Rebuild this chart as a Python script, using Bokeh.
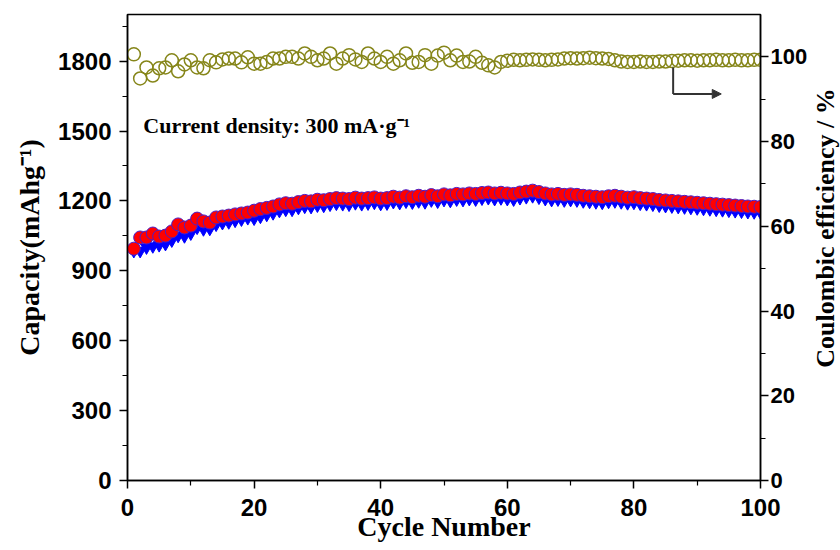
import math
from bokeh.plotting import figure
from bokeh.layouts import row
from bokeh.models import Range1d, LinearAxis, FixedTicker, Label, Arrow, NormalHead
from bokeh.core.properties import value
from bokeh.embed import file_html
from bokeh.resources import INLINE

# ---------------- data ----------------
cycles = list(range(1, 101))

charge_capacity = [
    995, 1043, 1043, 1060, 1047, 1051, 1069, 1099, 1086, 1094,
    1124, 1112, 1107, 1129, 1133, 1137, 1142, 1146, 1150, 1158,
    1165, 1170, 1176, 1185, 1190, 1188, 1195, 1200, 1198, 1205,
    1203, 1208, 1212, 1210, 1208, 1214, 1210, 1212, 1215, 1210,
    1212, 1218, 1214, 1220, 1216, 1222, 1218, 1225, 1220, 1228,
    1224, 1230, 1228, 1232, 1230, 1234, 1236, 1232, 1235, 1232,
    1230, 1236, 1240, 1244, 1238, 1232, 1228, 1230, 1226, 1228,
    1226, 1222, 1220, 1218, 1216, 1220, 1222, 1218, 1214, 1216,
    1212, 1210, 1208, 1204, 1202, 1200, 1198, 1196, 1194, 1192,
    1190, 1188, 1186, 1184, 1182, 1180, 1178, 1176, 1175, 1174,
]

discharge_capacity = [
    985, 985, 1000, 1005, 1010, 1015, 1030, 1050, 1048, 1060,
    1085, 1078, 1080, 1098, 1105, 1108, 1115, 1120, 1126, 1124,
    1132, 1140, 1147, 1157, 1162, 1162, 1170, 1175, 1174, 1180,
    1179, 1184, 1188, 1186, 1184, 1190, 1186, 1189, 1192, 1187,
    1189, 1195, 1191, 1197, 1193, 1198, 1194, 1202, 1197, 1204,
    1200, 1206, 1204, 1208, 1206, 1210, 1212, 1208, 1211, 1208,
    1206, 1212, 1216, 1220, 1214, 1208, 1204, 1206, 1202, 1204,
    1202, 1198, 1196, 1194, 1192, 1196, 1198, 1194, 1190, 1192,
    1188, 1186, 1184, 1180, 1178, 1176, 1174, 1172, 1170, 1168,
    1166, 1164, 1162, 1160, 1158, 1156, 1154, 1152, 1151, 1150,
]

coulombic_efficiency = [
    100.6, 94.9, 97.5, 95.6, 97.3, 97.5, 99.2, 96.6, 98.2, 99.2,
    97.5, 97.3, 99.2, 98.7, 99.4, 99.6, 99.6, 98.7, 99.9, 98.4,
    98.4, 98.8, 99.6, 99.6, 100.0, 100.0, 99.6, 100.8, 100.0, 99.2,
    99.6, 100.8, 98.4, 99.6, 100.4, 99.4, 98.8, 100.8, 99.6, 98.8,
    100.0, 98.4, 99.2, 100.8, 98.6, 98.8, 100.4, 98.4, 100.3, 101.0,
    99.2, 100.3, 98.8, 98.9, 100.0, 98.6, 98.0, 97.5, 98.8, 99.1,
    99.3, 99.2, 99.3, 99.4, 99.3, 99.2, 99.3, 99.4, 99.6, 99.7,
    99.6, 99.7, 99.8, 99.7, 99.6, 99.5, 99.2, 98.9, 98.8, 98.8,
    98.9, 98.8, 98.8, 98.9, 98.9, 99.0, 99.1, 99.2, 99.2, 99.1,
    99.2, 99.2, 99.3, 99.2, 99.2, 99.3, 99.2, 99.2, 99.3, 99.3,
]

x_ticks = [0, 20, 40, 60, 80, 100]
x_minor = [10, 30, 50, 70, 90]
cap_ticks = [0, 300, 600, 900, 1200, 1500, 1800]
cap_minor = [150, 450, 750, 1050, 1350, 1650, 1950]
ce_ticks = [0, 20, 40, 60, 80, 100]
ce_minor = [10, 30, 50, 70, 90]

x_title = "Cycle Number"
left_title = "Capacity(mAhg\u207b\u00b9)"
right_title = "Coulombic efficiency / %"
note_text = "Current density: 300 mA\u00b7g\u207b\u00b9"

SERIF = "Liberation Serif"
SANS = "Liberation Sans"

# ---------------- main figure ----------------
p = figure(width=810, height=550,
           x_range=Range1d(0, 100), y_range=Range1d(0, 2000),
           output_backend="svg", toolbar_location=None,
           min_border_left=127, min_border_right=47,
           min_border_top=14, min_border_bottom=70)
p.extra_y_ranges = {"ce": Range1d(0, 110)}
p.grid.visible = False
p.background_fill_color = "white"
p.border_fill_color = "white"
p.outline_line_color = "black"
p.outline_line_width = 1.5

p.xaxis.ticker = FixedTicker(ticks=x_ticks, minor_ticks=x_minor)
p.yaxis.ticker = FixedTicker(ticks=cap_ticks, minor_ticks=cap_minor)

ax_r = LinearAxis(y_range_name="ce",
                  ticker=FixedTicker(ticks=ce_ticks, minor_ticks=ce_minor))
p.add_layout(ax_r, "right")

p.xaxis[0].axis_label = x_title
p.yaxis[0].axis_label = left_title

for ax in [p.xaxis[0], p.yaxis[0], ax_r]:
    ax.axis_line_width = 1.5
    ax.axis_line_color = "black"
    ax.major_tick_in = 0
    ax.major_tick_out = 8
    ax.minor_tick_in = 0
    ax.minor_tick_out = 5
    ax.major_tick_line_width = 1.5
    ax.minor_tick_line_width = 1.2
    ax.major_tick_line_color = "black"
    ax.minor_tick_line_color = "black"
    ax.major_label_text_font = SANS
    ax.major_label_text_font_style = "bold"
    ax.major_label_text_font_size = "24px"
    ax.major_label_text_color = "black"
    ax.axis_label_text_font = SERIF
    ax.axis_label_text_font_style = "bold"
    ax.axis_label_text_font_size = "28px"
    ax.axis_label_text_color = "black"

ax_r.major_label_text_font_size = "22px"
p.xaxis[0].major_label_standoff = 10
p.xaxis[0].axis_label_standoff = -8
p.yaxis[0].major_label_standoff = 8
p.yaxis[0].axis_label_standoff = 10
ax_r.major_label_standoff = 2

# ---------------- data marks ----------------
p.scatter(cycles, discharge_capacity, marker="inverted_triangle", size=12,
          fill_color="#0000ff", line_color="#0000ff", line_width=1)
p.scatter(cycles, charge_capacity, marker="circle", size=13,
          fill_color="#ff0000", line_color="#4a1ec8", line_width=1)
p.scatter(cycles, coulombic_efficiency, y_range_name="ce", marker="circle",
          size=13, fill_color=None, line_color="#86861a", line_width=1.5)

# ---------------- annotations ----------------
arrow_x0, arrow_x1 = 86.2, 93.8
arrow_ytop, arrow_y = 1772, 1659
p.line([arrow_x0, arrow_x0], [arrow_ytop, arrow_y], line_color="#333333", line_width=2)
p.add_layout(Arrow(end=NormalHead(size=9, fill_color="#333333", line_color="#333333"),
                   x_start=arrow_x0, y_start=arrow_y, x_end=arrow_x1, y_end=arrow_y,
                   line_color="#333333", line_width=2))

p.add_layout(Label(x=2.5, y=1524, text=note_text, text_font=SERIF,
                   text_font_style="bold", text_font_size="22px",
                   text_baseline="middle", text_align="left", text_color="black"))

# ---------------- right-hand title strip ----------------
side = figure(width=30, height=550, x_range=Range1d(0, 30), y_range=Range1d(0, 550),
              x_axis_type=None, y_axis_type=None,
              output_backend="svg", toolbar_location=None,
              min_border_left=0, min_border_right=0, min_border_top=0, min_border_bottom=0)
side.grid.visible = False
side.outline_line_color = None
side.background_fill_color = "white"
side.border_fill_color = "white"
side.text(x=[15], y=[298], text=[right_title], angle=math.pi / 2,
          text_font=value(SERIF), text_font_style="bold", text_font_size="26px",
          text_align="center", text_baseline="middle", text_color="black")

layout = row(p, side, spacing=0)
open("out.html", "w").write(file_html(layout, INLINE))
